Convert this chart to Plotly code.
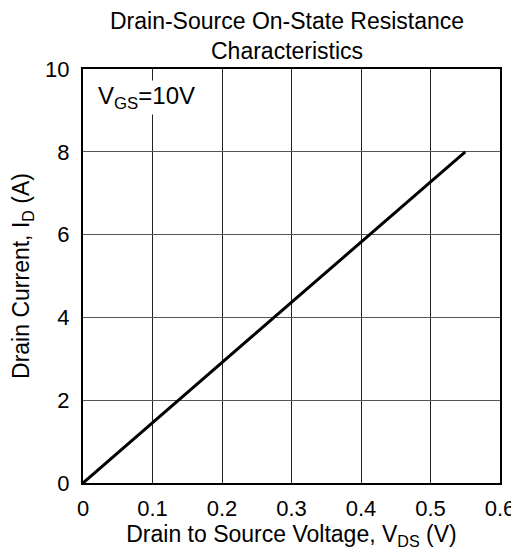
import plotly.graph_objects as go

vds = [0.0, 0.55]
i_d = [0.0, 8.0]
x_ticks = [0, 0.1, 0.2, 0.3, 0.4, 0.5, 0.6]
x_labels = ["0", "0.1", "0.2", "0.3", "0.4", "0.5", "0.6"]
y_ticks = [0, 2, 4, 6, 8, 10]

fnt = "Liberation Sans, Arial, sans-serif"

fig = go.Figure()
fig.add_trace(go.Scatter(x=vds, y=i_d, mode="lines",
                         line=dict(color="black", width=3), showlegend=False))

# page body has an 8px default margin, so the figure is sized/placed accordingly
fig.update_layout(
    width=511, height=548,
    margin=dict(l=75, r=19, t=61, b=73, autoexpand=False),
    paper_bgcolor="white", plot_bgcolor="white",
    font=dict(family=fnt, size=22, color="black"),
    xaxis=dict(range=[0, 0.6], tickvals=x_ticks, ticktext=x_labels,
               showgrid=True, gridcolor="#222", gridwidth=1,
               showline=True, linecolor="black", linewidth=2, mirror=True,
               zeroline=False, ticks="", ticklabelstandoff=5, automargin=False,
               tickfont=dict(family=fnt, size=22),
               title=dict(text="Drain to Source Voltage, V<sub>DS</sub> (V)", standoff=1,
                          font=dict(family=fnt, size=23))),
    yaxis=dict(range=[0, 10], tickvals=y_ticks,
               showgrid=True, gridcolor="#555", gridwidth=1,
               showline=True, linecolor="black", linewidth=2, mirror=True,
               zeroline=False, ticks="", ticklabelstandoff=7, automargin=False,
               tickfont=dict(family=fnt, size=22),
               title=dict(text="Drain Current, I<sub>D</sub> (A)", standoff=11,
                          font=dict(family=fnt, size=23))),
    annotations=[
        dict(text="Drain-Source On-State Resistance<br>Characteristics",
             x=0.49, y=1, xref="paper", yref="paper", xanchor="center", yanchor="bottom",
             yshift=3, showarrow=False, font=dict(family=fnt, size=23, color="black")),
        dict(text="V<sub>GS</sub>=10V", x=0.0, y=9.3, xref="x", yref="y",
             xanchor="left", yanchor="middle", xshift=13, showarrow=False,
             bgcolor="white", font=dict(family=fnt, size=24, color="black")),
    ],
)

fig.write_html("out.html")
